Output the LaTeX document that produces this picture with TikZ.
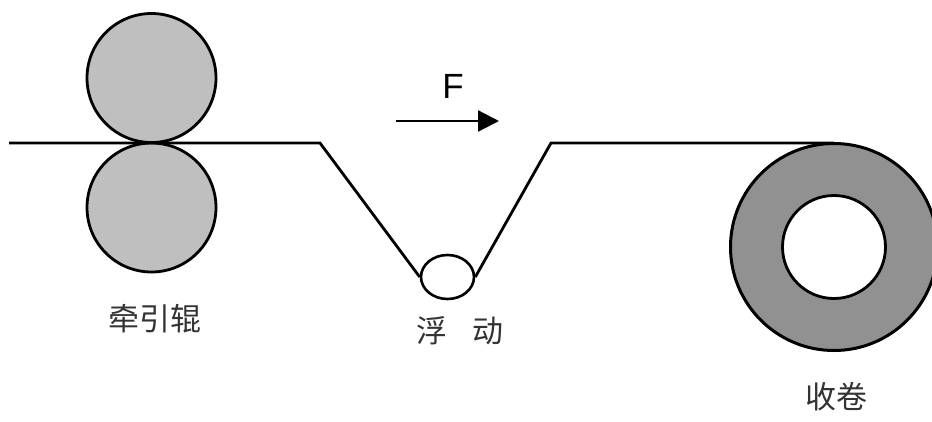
\documentclass[tikz,border=0pt]{standalone}
\usepackage{fontspec}
\setmainfont{Liberation Sans}
\newfontfamily\cjk{Noto Sans CJK SC}
\usetikzlibrary{arrows.meta,shapes.geometric}
\begin{document}
\begin{tikzpicture}[x=1pt,y=-1pt,
  web/.style={line width=2.8pt,black,line join=miter},
  rollA/.style={circle,draw=black,line width=2.8pt,fill=black!25,minimum size=129pt,inner sep=0pt,outer sep=0pt},
  lbl/.style={font=\cjk\fontsize{31}{33}\selectfont,text=black!80,inner sep=0pt}]
\useasboundingbox (0,0) rectangle (932,421);
\node[rollA] (top) at (151.5,78) {};
\node[rollA] (bot) at (151.5,207.5) {};
\node[circle,draw=black,line width=3pt,fill=black!43,minimum size=207pt,inner sep=0pt] (wind) at (834,247) {};
\node[circle,draw=black,line width=2.8pt,fill=white,minimum size=103pt,inner sep=0pt] (core) at (834,247) {};
\node[ellipse,draw=black,line width=2.6pt,fill=white,minimum width=53pt,minimum height=44pt,inner sep=0pt] (float) at (447.5,277) {};
\coordinate (start) at (9,143);
\coordinate (a) at (320,143);
\coordinate (b) at (551,143);
\coordinate (e) at (834,143);
\draw[web] (start) -- (a) -- (float.west);
\draw[web] (float.east) -- (b) -- (e);
\coordinate (as) at (396,121);
\coordinate (ae) at (499,121);
\draw[line width=2.3pt,-{Triangle[length=21pt,width=21pt]}] (as) -- (ae);
\node[font=\fontsize{35}{37}\selectfont,inner sep=0pt] (F) at (453,86) {F};
\node[lbl] (l1) at (155,319) {牵引辊};
\node[lbl] (l2) at (460,331) {浮\hspace{26pt}动};
\node[lbl] (l3) at (836,397) {收卷};
\end{tikzpicture}
\end{document}
